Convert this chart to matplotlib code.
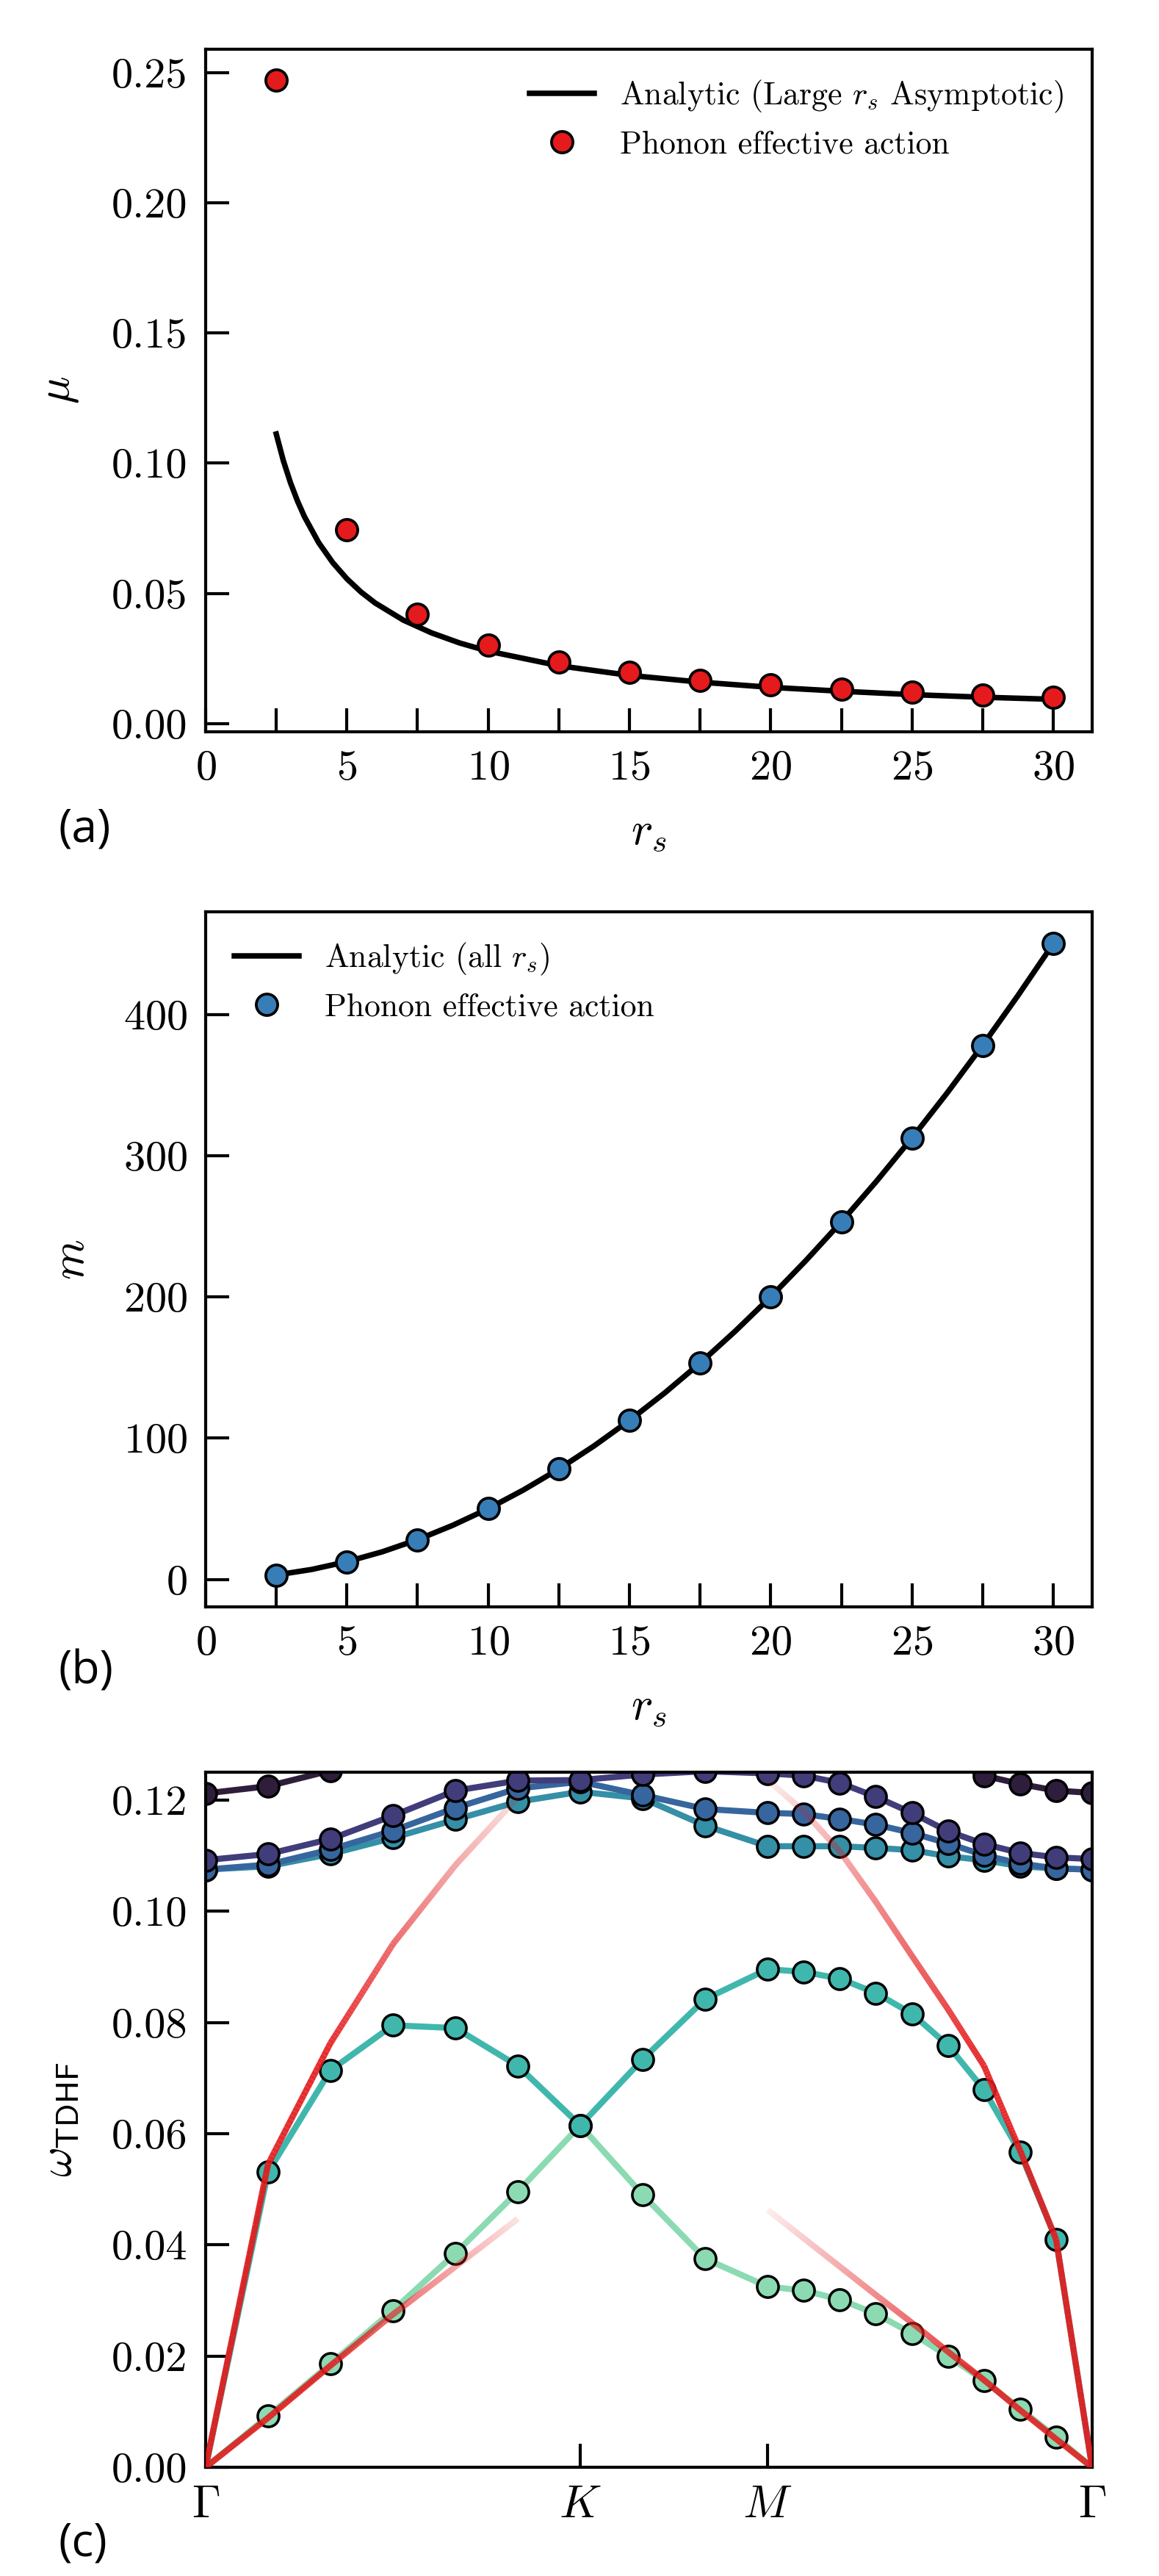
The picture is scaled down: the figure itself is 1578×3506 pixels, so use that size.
import matplotlib
matplotlib.use('Agg')
import matplotlib.pyplot as plt
import numpy as np
from matplotlib.collections import LineCollection
from matplotlib.ticker import MultipleLocator, FormatStrFormatter

plt.rcParams['font.family'] = 'serif'
plt.rcParams['font.serif'] = ['cmr10', 'DejaVu Serif']
plt.rcParams['mathtext.fontset'] = 'cm'
plt.rcParams['axes.formatter.use_mathtext'] = True
plt.rcParams['axes.linewidth'] = 1.0

# ---- panel (a): mu vs r_s
rs_points = [2.5, 5, 7.5, 10, 12.5, 15, 17.5, 20, 22.5, 25, 27.5, 30]
mu_points = [0.247, 0.0744, 0.0419, 0.0301, 0.0237, 0.0197, 0.0167, 0.0148,
             0.0133, 0.0121, 0.0110, 0.0100]
rs_curve_a = [2.5, 2.75, 3, 3.25, 3.5, 4, 4.5, 5, 5.5, 6, 7, 8, 9, 10, 12.5,
              15, 17.5, 20, 22.5, 25, 27.5, 30]
mu_curve = [0.1112, 0.1010, 0.0926, 0.0855, 0.0794, 0.0695, 0.0618, 0.0556,
            0.0505, 0.0463, 0.0397, 0.0348, 0.0309, 0.0278, 0.0222, 0.0185,
            0.0159, 0.0139, 0.0124, 0.0111, 0.0101, 0.0093]

# ---- panel (b): m vs r_s
m_points = [3.1, 12.5, 28.1, 50.0, 78.1, 112.5, 153.1, 200.0, 253.1, 312.5,
            378.1, 450.0]
rs_curve_b = [2.5, 3.75, 5, 6.25, 7.5, 8.75, 10, 11.25, 12.5, 13.75, 15,
              16.25, 17.5, 18.75, 20, 21.25, 22.5, 23.75, 25, 26.25, 27.5,
              28.75, 30]
m_curve = [3.1, 7.0, 12.5, 19.5, 28.1, 38.3, 50.0, 63.3, 78.1, 94.5, 112.5,
           132.0, 153.1, 175.8, 200.0, 225.8, 253.1, 282.0, 312.5, 344.5,
           378.1, 413.3, 450.0]

# ---- panel (c): TDHF bands along Gamma-K-M-Gamma
k_path = [0.0, 0.1667, 0.3333, 0.5, 0.6667, 0.8333, 1.0, 1.1667, 1.3333,
          1.5, 1.5962, 1.6925, 1.7887, 1.8849, 1.9811, 2.0774, 2.1736,
          2.2698, 2.3660]
k_labels = [r'$\Gamma$', r'$K$', r'$M$', r'$\Gamma$']
k_label_pos = [0.0, 1.0, 1.5, 2.3660]

band1 = [0.0, 0.0092, 0.0186, 0.0282, 0.0385, 0.0496, 0.0615, 0.0490, 0.0375,
         0.0325, 0.0318, 0.0302, 0.0276, 0.0241, 0.0200, 0.0156, 0.0105,
         0.0054, 0.0]
band2 = [0.0, 0.0531, 0.0714, 0.0795, 0.0790, 0.0722, 0.0615, 0.0734, 0.0842,
         0.0896, 0.0891, 0.0879, 0.0853, 0.0816, 0.0759, 0.0679, 0.0567,
         0.0410, 0.0]
band3 = [0.1075, 0.1081, 0.1103, 0.1132, 0.1165, 0.1197, 0.1215, 0.1203,
         0.1154, 0.1117, 0.1117, 0.1117, 0.1114, 0.1110, 0.1099, 0.1092,
         0.1081, 0.1077, 0.1075]
band4 = [0.1075, 0.1084, 0.1111, 0.1145, 0.1186, 0.1221, 0.1233, 0.1209,
         0.1184, 0.1177, 0.1175, 0.1166, 0.1156, 0.1141, 0.1122, 0.1101,
         0.1086, 0.1077, 0.1075]
band5 = [0.1092, 0.1103, 0.1130, 0.1172, 0.1217, 0.1235, 0.1236, 0.1246,
         0.1252, 0.1248, 0.1244, 0.1231, 0.1206, 0.1177, 0.1144, 0.1121,
         0.1105, 0.1097, 0.1094]
band6 = [0.1212, 0.1225, 0.1253, 0.1275, 0.1290, 0.1300, 0.1300, 0.1300,
         0.1290, 0.1285, 0.1285, 0.1280, 0.1280, 0.1278, 0.1272, 0.1244,
         0.1229, 0.1217, 0.1213]
bands = [band1, band2, band3, band4, band5, band6]
band_colors = ['#8bdab2', '#40b7ad', '#348fa7', '#37659e', '#413d7b', '#2e1e3b']

# analytic long-wavelength dispersion (upper ~sqrt(k), lower linear)
k_left = [0.0, 0.1667, 0.3333, 0.5, 0.6667, 0.8333]
upper_left = [0.0, 0.0545, 0.0763, 0.0941, 0.1083, 0.1205]
lower_left = [0.0, 0.0089, 0.0183, 0.0275, 0.0361, 0.0447]
k_right = [1.5, 1.5962, 1.6925, 1.7887, 1.8849, 1.9811, 2.0774, 2.1736,
           2.2698, 2.3660]
upper_right = [0.1236, 0.1180, 0.1108, 0.1017, 0.0920, 0.0824, 0.0722,
               0.0570, 0.0410, 0.0]
lower_right = [0.0463, 0.0412, 0.0361, 0.0310, 0.0260, 0.0208, 0.0157,
               0.0103, 0.0051, 0.0]

red = '#e41a1c'
blue = '#377eb8'
tick_fs = 14
label_fs = 15
legend_fs = 10.5
panel_font = ['Open Sans', 'DejaVu Sans']


def style_axes(ax):
    ax.tick_params(which='both', direction='in', length=7.7, width=1.0,
                   top=False, right=False, labelsize=tick_fs, pad=6)


def faded_line(ax, k, w, k_gamma):
    # solid near Gamma, fading out towards the zone boundary
    segs, cols = [], []
    rgb = matplotlib.colors.to_rgb(red)
    for i in range(len(k) - 1):
        t = np.linspace(0, 1, 31)
        xs = k[i] + (k[i + 1] - k[i]) * t
        ys = w[i] + (w[i + 1] - w[i]) * t
        ds = k_gamma[i] + (k_gamma[i + 1] - k_gamma[i]) * t
        for j in range(30):
            d = 0.5 * (ds[j] + ds[j + 1])
            a = 0.92 * np.clip((0.91 - d) / (0.91 - 0.32), 0, 1)
            segs.append([(xs[j], ys[j]), (xs[j + 1], ys[j + 1])])
            cols.append((*rgb, a))
    lc = LineCollection(segs, colors=cols, linewidths=2.0, capstyle='butt',
                        zorder=10)
    ax.add_collection(lc)


fig = plt.figure(figsize=(1578 / 300, 3506 / 300), dpi=300)
ax_a = fig.add_axes([0.1774, 0.7159, 0.7649, 0.2650])
ax_b = fig.add_axes([0.1774, 0.3762, 0.7649, 0.2698])
ax_c = fig.add_axes([0.1774, 0.0422, 0.7649, 0.2698])

# (a)
ax_a.plot(rs_curve_a, mu_curve, color='k', lw=1.8,
          label=r'Analytic (Large $r_s$ Asymptotic)')
ax_a.plot(rs_points, mu_points, 'o', color=red, mec='k', mew=0.9, ms=7,
          label='Phonon effective action')
ax_a.set_xlim(0, 31.375)
ax_a.set_ylim(-0.0032, 0.259)
ax_a.xaxis.set_major_locator(MultipleLocator(5))
ax_a.xaxis.set_minor_locator(MultipleLocator(2.5))
ax_a.yaxis.set_major_locator(MultipleLocator(0.05))
ax_a.yaxis.set_major_formatter(FormatStrFormatter('%.2f'))
ax_a.set_xlabel(r'$r_s$', fontsize=label_fs, labelpad=8)
ax_a.set_ylabel(r'$\mu$', fontsize=label_fs, labelpad=10)
ax_a.legend(loc='upper right', frameon=False, fontsize=legend_fs)
style_axes(ax_a)
ax_a.text(-0.166, -0.143, '(a)', transform=ax_a.transAxes, fontsize=15,
          family=panel_font, va='center', ha='left')

# (b)
ax_b.plot(rs_curve_b, m_curve, color='k', lw=1.8,
          label=r'Analytic (all $r_s$)')
ax_b.plot(rs_points, m_points, 'o', color=blue, mec='k', mew=0.9, ms=7,
          label='Phonon effective action')
ax_b.set_xlim(0, 31.375)
ax_b.set_ylim(-19.5, 472.5)
ax_b.xaxis.set_major_locator(MultipleLocator(5))
ax_b.xaxis.set_minor_locator(MultipleLocator(2.5))
ax_b.yaxis.set_major_locator(MultipleLocator(100))
ax_b.set_xlabel(r'$r_s$', fontsize=label_fs, labelpad=8)
ax_b.set_ylabel(r'$m$', fontsize=label_fs, labelpad=10)
ax_b.legend(loc='upper left', frameon=False, fontsize=legend_fs)
style_axes(ax_b)
ax_b.text(-0.166, -0.093, '(b)', transform=ax_b.transAxes, fontsize=15,
          family=panel_font, va='center', ha='left')

# (c)
k_arr = np.array(k_path)
for i, (band, col) in enumerate(zip(bands, band_colors)):
    b = np.array(band)
    marks = [j for j in range(len(b)) if b[j] > 0]
    ax_c.plot(k_arr, b, '-o', color=col, lw=2.0, ms=7, mec='k', mew=0.85,
              markevery=marks, zorder=2 + i * 0.1)

kl = np.array(k_left)
kr = np.array(k_right)
faded_line(ax_c, kl, upper_left, kl)
faded_line(ax_c, kl, lower_left, kl)
faded_line(ax_c, kr, upper_right, k_path[-1] - kr)
faded_line(ax_c, kr, lower_right, k_path[-1] - kr)

ax_c.set_xlim(k_path[0], k_path[-1])
ax_c.set_ylim(0, 0.125)
ax_c.set_xticks(k_label_pos)
ax_c.set_xticklabels(k_labels)
ax_c.yaxis.set_major_locator(MultipleLocator(0.02))
ax_c.yaxis.set_major_formatter(FormatStrFormatter('%.2f'))
ax_c.set_ylabel(r'$\omega_{\mathsf{TDHF}}$', fontsize=label_fs, labelpad=10)
style_axes(ax_c)
ax_c.tick_params(axis='x', labelsize=15)
ax_c.text(-0.166, -0.11, '(c)', transform=ax_c.transAxes, fontsize=15,
          family=panel_font, va='center', ha='left')

fig.savefig('out.png', dpi=300)
